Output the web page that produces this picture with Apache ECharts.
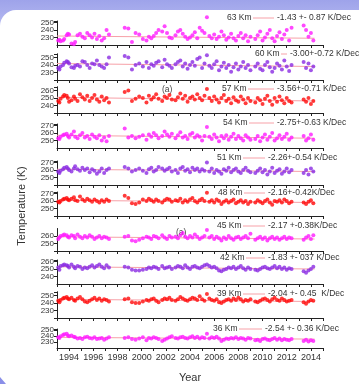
<!DOCTYPE html>
<html>
<head>
<meta charset="utf-8">
<script src="https://cdn.jsdelivr.net/npm/echarts@6/dist/echarts.min.js"></script>
<style>
html, body { margin: 0; padding: 0; background: #fff; }
#chart { width: 359px; height: 384px; }
</style>
</head>
<body>
<div id="chart"></div>
<script>
// observation times (decimal year), shared by all altitudes
var years = [
  1993.1, 1993.2, 1993.3, 1993.5, 1993.6, 1993.8, 1993.9, 1994.0, 1994.2, 1994.4, 1994.5, 1994.7, 1994.9,
  1995.1, 1995.3, 1995.5, 1995.7, 1995.9, 1996.1, 1996.3, 1996.5, 1996.7, 1996.9, 1997.1, 1997.3,
  1998.6, 1998.9, 1999.2, 1999.5, 1999.8, 2000.1, 2000.4, 2000.6, 2000.8, 2001.0, 2001.2, 2001.4, 2001.7, 2001.9,
  2002.1, 2002.3, 2002.5, 2002.8, 2003.0, 2003.2, 2003.4, 2003.6, 2003.8, 2004.0, 2004.2, 2004.4, 2004.6, 2004.8,
  2005.0, 2005.2, 2005.4, 2005.6, 2005.8, 2006.0, 2006.2, 2006.4, 2006.6, 2006.8, 2007.0, 2007.2, 2007.4, 2007.6, 2007.8,
  2008.0, 2008.2, 2008.4, 2008.6, 2008.8, 2009.0,
  2009.4, 2009.6, 2009.8, 2010.0, 2010.2, 2010.4, 2010.6, 2010.8, 2011.0, 2011.2, 2011.4, 2011.6, 2011.8, 2012.0, 2012.2, 2012.4,
  2013.4, 2013.6, 2013.8, 2014.0, 2014.2
];

var t63 = [226,227,225,226,228,233,235,234,222,221,224,233,235,231,229,236,233,230,235,228,232,226,229,240,234,
  243,242,224,236,234,228,226,231,229,232,236,240,238,245,236,230,229,233,238,240,235,231,228,230,233,237,229,243,239,236,
  257,232,229,234,228,231,238,233,227,230,235,229,226,232,236,229,233,225,231,
  228,233,238,226,230,235,240,229,225,232,237,228,234,240,226,243,
  246,240,231,236,226];
var t60 = [236,234,238,240,243,245,244,242,237,236,239,240,238,245,244,240,236,242,241,246,240,238,236,241,250,
  252,250,234,240,242,238,244,236,241,239,243,245,237,247,241,239,236,241,244,246,238,242,235,240,244,239,248,250,236,242,
  253,239,236,241,245,233,238,243,236,240,231,237,242,234,238,244,236,240,233,
  238,242,235,233,240,244,237,231,236,242,239,234,246,238,232,240,
  244,236,242,233,238];
var t57 = [246,244,249,252,254,253,250,245,247,252,249,246,255,251,248,253,246,250,254,248,245,252,247,250,244,
  258,260,246,249,252,250,244,253,248,251,255,249,246,252,250,254,248,247,251,256,249,253,245,250,252,248,255,250,247,253,
  262,250,246,252,248,244,250,254,246,249,243,251,247,245,252,248,243,250,246,
  244,250,247,242,249,253,246,241,250,245,252,247,243,250,246,244,
  248,245,250,242,246];
var t54 = [253,252,255,257,258,259,256,254,258,262,255,253,257,260,254,256,252,258,255,253,257,250,254,249,256,
  266,254,256,253,255,257,251,258,255,260,257,253,256,262,258,255,259,253,257,261,254,256,252,258,260,254,257,255,250,256,
  268,255,252,258,254,249,256,253,257,251,255,259,252,256,253,250,257,254,251,
  252,256,249,254,258,251,255,260,250,253,257,252,255,259,251,254,
  256,250,253,258,251];
var t51 = [258,256,259,261,263,264,262,260,258,262,265,261,259,263,260,262,257,261,259,255,258,262,256,260,262,
  264,262,258,260,262,259,256,261,263,258,260,264,262,259,261,263,258,260,256,262,264,259,261,257,263,260,262,258,261,259,
  270,258,262,256,260,258,255,261,259,263,257,260,262,258,256,260,263,259,257,
  256,259,262,257,260,254,258,263,256,259,261,255,258,262,257,260,
  256,260,254,262,258];
var t48 = [259,258,260,262,263,264,262,261,263,265,261,260,266,262,260,263,261,259,262,260,258,261,259,262,260,
  267,264,257,256,258,262,260,263,261,259,262,260,258,261,263,262,259,261,260,263,258,261,259,262,264,260,258,261,263,260,
  271,259,261,258,262,260,256,259,261,258,260,262,257,259,261,258,260,256,259,
  258,261,259,257,260,262,258,255,260,259,261,258,262,260,257,259,
  258,256,259,261,257];
var t45 = [256,258,260,261,262,261,259,258,261,260,257,262,259,257,260,258,261,259,256,258,260,257,259,258,256,
  259,260,254,253,255,257,259,258,256,260,259,257,261,258,256,260,258,259,257,261,264,259,257,260,258,262,259,256,258,260,
  268,258,260,256,259,257,254,258,256,260,257,255,258,259,256,258,260,257,263,
  255,257,259,256,258,254,257,259,256,258,255,257,259,256,258,257,
  255,258,260,256,261];
var t42 = [252,249,254,255,256,255,254,252,256,253,251,254,253,250,252,251,253,255,252,254,256,253,251,255,252,
  253,252,249,248,248,249,250,252,251,253,252,250,254,251,252,253,250,252,254,253,251,255,252,250,253,254,252,251,253,255,
  256,254,252,253,251,248,247,249,250,252,251,253,250,252,254,251,249,252,250,
  249,248,250,252,253,251,250,252,254,251,253,250,252,249,251,250,
  247,245,248,250,253];
var t39 = [243,241,244,246,247,248,246,245,247,244,243,246,248,245,242,241,243,245,247,244,246,243,245,244,242,
  245,246,241,240,240,242,244,243,245,246,243,241,244,246,245,247,244,243,245,248,246,244,243,245,247,246,244,249,245,243,
  252,246,244,243,245,241,240,242,244,245,243,246,244,247,245,242,244,243,245,
  242,241,243,245,246,244,242,245,247,244,243,246,244,242,243,244,
  241,239,242,244,243];
var t36 = [238,237,240,242,243,244,241,240,241,239,238,236,237,235,238,239,237,236,238,235,236,237,234,236,238,
  237,238,235,234,236,238,233,237,236,238,237,235,232,234,236,238,240,237,236,238,239,237,236,238,240,237,239,236,238,237,
  244,236,238,237,239,236,232,234,236,235,237,236,238,235,237,236,234,237,236,
  233,234,232,235,236,234,233,235,237,234,236,233,235,234,233,235,
  232,234,231,233,232];

var altitudes = ['63 Km', '60 Km', '57 Km', '54 Km', '51 Km', '48 Km', '45 Km', '42 Km', '39 Km', '36 Km'];
var trendLabels = ['-1.43 +- 0.87 K/Dec', '-3.00+-0.72 K/Dec', '-3.56+-0.71 K/Dec', '-2.75+-0.63 K/Dec',
  '-2.26+-0.54 K/Dec', '-2.16+-0.42K/Dec', '-2.17 +-0.38K/Dec', '-1.83 +- 037 K/Dec',
  '-2.04 +- 0.45  K/Dec', '-2.54 +- 0.36 K/Dec'];
// fitted trend line end values (K) at 1993 and 2014.3
var trendStart = [232, 242, 251, 257, 261, 261, 259, 253, 245, 238];
var trendEnd   = [229, 238, 246, 253, 258, 258, 256, 250, 242, 235];
var yMin = [220, 220, 230, 240, 240, 240, 240, 230, 220, 220];
var yMax = [252, 255, 265, 272, 272, 272, 270, 262, 255, 252];

var temps = [t63, t60, t57, t54, t51, t48, t45, t42, t39, t36];

// layout
var axisY = [45, 80, 113, 148, 185, 216, 251, 284, 318, 353];
var showMin = [true, false, false, true, false, false, false, true, false, true];
var legendX = [227, 255, 222, 223, 217, 218, 217, 220, 217, 213];
var legendY = [18, 54, 89, 123, 158, 193, 226, 258, 294, 329];
var colors = ['#ff1aff', '#8a2be2', '#ff0a0a'];
var trendColor = '#f7a1a8';
var pxPerK = 0.75;
var font = 'Liberation Sans, Arial, sans-serif';

var grids = [], xAxes = [], yAxes = [], series = [], graphics = [];

temps.forEach(function (vals, i) {
  var h = (yMax[i] - yMin[i]) * pxPerK;
  grids.push({ left: 57, width: 266, top: axisY[i] - h, height: h });
  xAxes.push({
    type: 'value', gridIndex: i, min: 1993, max: 2015, interval: 1,
    axisLine: { lineStyle: { color: '#222', width: 1 } },
    axisTick: { length: 3, lineStyle: { color: '#222' } },
    axisLabel: {
      show: i === 9, fontSize: 9, color: '#333', margin: 5, fontFamily: font,
      formatter: function (v) { return v % 2 === 0 ? String(v) : ''; }
    },
    splitLine: { show: false },
    name: i === 9 ? 'Year' : '', nameLocation: 'middle', nameGap: 24,
    nameTextStyle: { fontSize: 11, color: '#333', fontFamily: font }
  });
  yAxes.push({
    type: 'value', gridIndex: i, min: yMin[i], max: yMax[i], interval: 10,
    axisLine: { show: true, lineStyle: { color: '#222', width: 1 } },
    axisTick: { show: true, length: 3, lineStyle: { color: '#222' } },
    axisLabel: {
      fontSize: 8, color: '#333', margin: 3, fontFamily: font, lineHeight: 8,
      formatter: (function (mn, sm) {
        return function (v) {
          if (v % 10 !== 0) return '';
          if (!sm && v === mn) return '';
          return String(v);
        };
      })(yMin[i], showMin[i])
    },
    splitLine: { show: false }
  });
  series.push({
    type: 'line', xAxisIndex: i, yAxisIndex: i, silent: true, z: 1,
    data: [[1993, trendStart[i]], [2014.3, trendEnd[i]]],
    symbol: 'none', lineStyle: { color: trendColor, width: 1 }
  });
  series.push({
    type: 'scatter', xAxisIndex: i, yAxisIndex: i, silent: true, clip: false, z: 2,
    data: years.map(function (y, k) { return [y, vals[k]]; }),
    symbolSize: 4, itemStyle: { color: colors[i % 3] }
  });

  // legend: altitude, sample line, trend text
  var kmW = 22;
  var lineStart = legendX[i] + kmW + 4;
  var textX = i < 4 ? 277 : (i === 9 ? 265 : 268);
  if (i === 1) textX = 290;
  graphics.push({
    type: 'text', left: legendX[i], top: legendY[i] - 5, silent: true,
    style: { text: altitudes[i], fontSize: 8.5, fill: '#333', fontFamily: font }
  });
  graphics.push({
    type: 'line', silent: true,
    shape: { x1: lineStart, y1: legendY[i], x2: textX - 3, y2: legendY[i] },
    style: { stroke: trendColor, lineWidth: 1 }
  });
  graphics.push({
    type: 'text', left: textX, top: legendY[i] - 5, silent: true,
    style: { text: trendLabels[i], fontSize: 8.5, fill: '#333', fontFamily: font }
  });
});

// panel tags
graphics.push({ type: 'text', left: 162, top: 85, silent: true,
  style: { text: '(a)', fontSize: 8.5, fill: '#444', fontFamily: font } });
graphics.push({ type: 'text', left: 176, top: 228, silent: true,
  style: { text: '(a)', fontSize: 8.5, fill: '#444', fontFamily: font } });

// y axis title
graphics.push({ type: 'text', x: 22, y: 206, rotation: Math.PI / 2, silent: true,
  style: { text: 'Temperature (K)', fontSize: 11, fill: '#333', fontFamily: font,
    align: 'center', verticalAlign: 'middle' } });

// slide frame: top band and corners
graphics.push({ type: 'rect', silent: true, z: -10,
  shape: { x: 0, y: 0, width: 359, height: 30 },
  style: { fill: new echarts.graphic.LinearGradient(0, 0, 0, 1, [
    { offset: 0, color: '#9ea3ea' }, { offset: 1, color: '#b9bdf2' }]) } });
graphics.push({ type: 'rect', silent: true, z: -9,
  shape: { x: 0, y: 10, width: 359, height: 374, r: [16, 0, 0, 0] },
  style: { fill: '#fff' } });
graphics.push({ type: 'polygon', silent: true, z: -8,
  shape: { points: [[0, 377], [6, 384], [0, 384]] },
  style: { fill: '#8a8fe8' } });

var chart = echarts.init(document.getElementById('chart'), null, { renderer: 'canvas' });
chart.setOption({
  animation: false,
  backgroundColor: '#fff',
  grid: grids,
  xAxis: xAxes,
  yAxis: yAxes,
  series: series,
  graphic: graphics
});
</script>
</body>
</html>
